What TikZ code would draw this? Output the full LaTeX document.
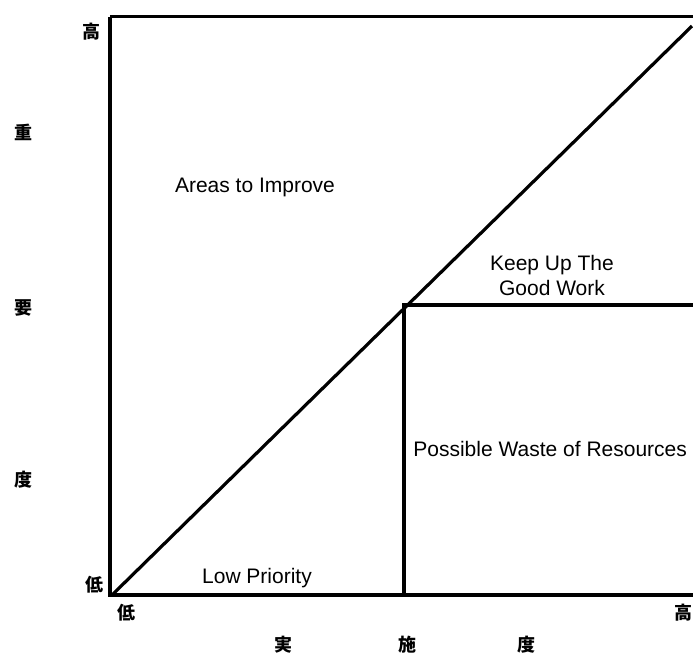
\documentclass[tikz,border=0pt]{standalone}
\usepackage{fontspec}
\setmainfont{Liberation Sans}
\newfontfamily\jpfont{Noto Sans CJK JP}

\begin{document}
\begin{tikzpicture}[x=0.5pt,y=-0.5pt,
    zone/.style={font=\fontsize{10.5}{12.5}\selectfont,align=center,inner sep=0pt},
    kanji/.style={font=\jpfont\bfseries\fontsize{9}{10}\selectfont,inner sep=0pt}]
    \useasboundingbox (0,0) rectangle (693,655);
    \coordinate (tl) at (110,16.5);
    \coordinate (tr) at (693,16.5);
    \coordinate (bl) at (110,595);
    \coordinate (br) at (693,595);
    \coordinate (mid) at (404,305);
    \coordinate (mr) at (693,305);
    \coordinate (mb) at (404,595);
    \coordinate (dend) at (692,26);
    % frame
    \draw[line width=1.1pt] (tl)--(tr);
    \draw[line width=1.6pt] (tl)--(bl)--(br);
    \draw[line width=1.6pt] (112,595)--(dend);
    \draw[line width=2.1pt] (mb)--(mid)--(mr);
    % regions
    \node[zone] (improve) at (255,187) {Areas to Improve};
    \node[zone] (keep) at (552,275) {Keep Up The\\Good Work};
    \node[zone,anchor=west] (waste) at (413,449) {Possible Waste of Resources};
    \node[zone] (low) at (257,578) {Low Priority};
    % axis words
    \node[kanji] (yhi) at (92,32) {高};
    \node[kanji] (ylo) at (94,585) {低};
    \node[kanji] (xlo) at (127,613) {低};
    \node[kanji] (xhi) at (684,613) {高};
    \node[kanji] (y1) at (24,132) {重};
    \node[kanji] (y2) at (24,308) {要};
    \node[kanji] (y3) at (24,480) {度};
    \node[kanji] (x1) at (283,645) {実};
    \node[kanji] (x2) at (408,645) {施};
    \node[kanji] (x3) at (526,645) {度};
\end{tikzpicture}
\end{document}
